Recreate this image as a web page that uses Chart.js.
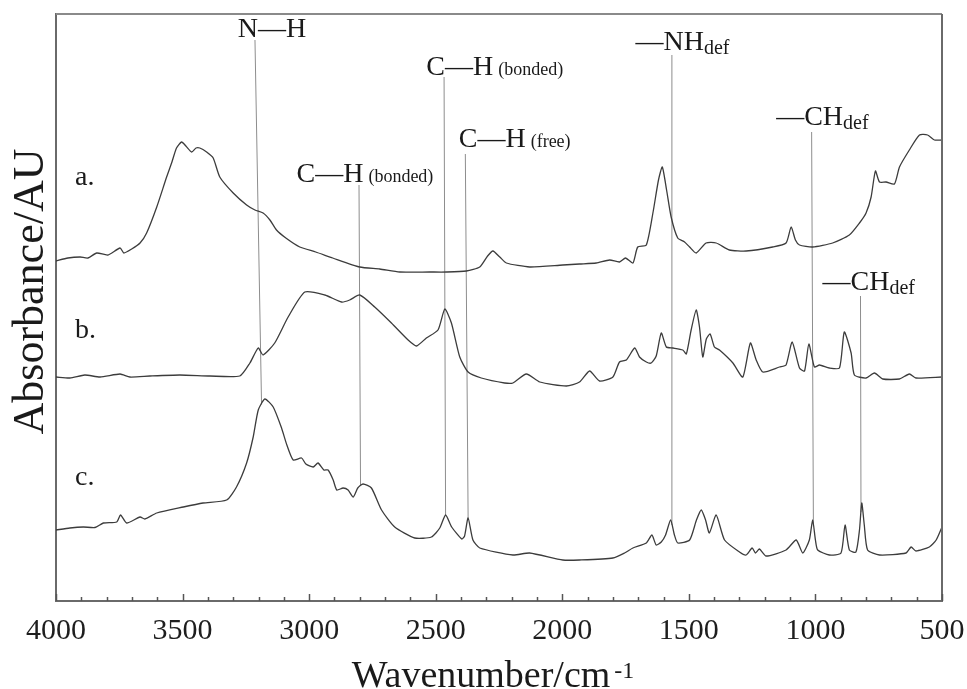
<!DOCTYPE html>
<html>
<head>
<meta charset="utf-8">
<title>Espectros FTIR</title>
<script src="https://cdn.jsdelivr.net/npm/chart.js@4.4.1/dist/chart.umd.min.js"></script>
<style>
  html, body { margin: 0; padding: 0; background: #fff; }
  #wrap { width: 967px; height: 689px; }
</style>
</head>
<body>
<div id="wrap"><canvas id="espectro" width="967" height="689"></canvas></div>
<script>
// espectros a, b, c (numero de onda em cm-1, absorbancia ja deslocada por curva)
const wnA = [4000,3953,3905,3874,3839,3795,3747,3732,3701,3668,3642,3602,3563,3542,3524,3504,3487,3464,3447,3432,3405,3379,3353,3300,3247,3214,3182,3155,3129,3092,3037,2974,2907,2800,2721,2642,2524,2458,2379,2326,2295,2274,2247,2221,2129,1998,1932,1866,1813,1774,1750,1721,1702,1668,1642,1620,1605,1588,1570,1544,1517,1497,1471,1432,1392,1340,1274,1169,1116,1096,1079,1063,1011,932,866,826,800,780,763,747,721,688,668,629,589,557,530,500];
const absA = [3.40,3.43,3.44,3.43,3.48,3.46,3.53,3.48,3.52,3.58,3.68,3.94,4.24,4.39,4.53,4.59,4.55,4.49,4.53,4.53,4.49,4.43,4.24,4.08,3.96,3.91,3.88,3.81,3.71,3.63,3.54,3.49,3.43,3.34,3.32,3.29,3.29,3.29,3.30,3.34,3.45,3.50,3.44,3.38,3.34,3.36,3.37,3.38,3.41,3.39,3.43,3.38,3.54,3.56,3.88,4.21,4.34,4.11,3.84,3.63,3.59,3.54,3.48,3.58,3.58,3.51,3.50,3.54,3.58,3.74,3.61,3.56,3.54,3.58,3.66,3.78,3.88,4.04,4.30,4.19,4.19,4.17,4.34,4.51,4.66,4.66,4.61,4.61];

const wnB = [4000,3945,3886,3826,3747,3708,3629,3511,3392,3274,3234,3201,3182,3136,3083,3017,2938,2872,2840,2800,2741,2675,2609,2576,2537,2491,2464,2438,2405,2372,2320,2228,2195,2142,2089,1984,1932,1892,1853,1800,1774,1747,1714,1695,1668,1649,1629,1609,1589,1563,1524,1510,1491,1471,1458,1445,1431,1416,1399,1379,1326,1287,1257,1234,1208,1142,1116,1092,1063,1043,1026,1004,984,945,905,886,859,846,800,767,734,668,629,603,500];
const absB = [2.24,2.23,2.26,2.24,2.27,2.24,2.25,2.26,2.25,2.25,2.38,2.53,2.46,2.58,2.84,3.09,3.06,2.99,3.01,3.06,2.94,2.78,2.61,2.55,2.63,2.71,2.92,2.78,2.44,2.29,2.23,2.18,2.18,2.27,2.19,2.15,2.19,2.30,2.20,2.24,2.39,2.41,2.53,2.44,2.39,2.38,2.45,2.68,2.54,2.53,2.51,2.47,2.71,2.91,2.74,2.44,2.62,2.67,2.54,2.51,2.38,2.24,2.58,2.41,2.29,2.34,2.36,2.59,2.33,2.30,2.57,2.34,2.36,2.33,2.33,2.69,2.48,2.26,2.23,2.28,2.22,2.22,2.27,2.23,2.24];

const wnC = [4000,3945,3892,3846,3813,3760,3745,3721,3668,3649,3602,3497,3419,3326,3287,3247,3221,3201,3175,3142,3109,3088,3063,3030,3013,2984,2965,2942,2925,2905,2891,2866,2846,2826,2808,2787,2754,2714,2662,2583,2517,2484,2461,2437,2397,2386,2372,2353,2326,2195,2129,1998,1932,1800,1754,1721,1668,1646,1629,1609,1592,1572,1557,1544,1497,1470,1451,1434,1419,1392,1359,1300,1274,1250,1237,1221,1195,1116,1076,1050,1024,1011,1000,991,945,899,883,866,840,826,817,807,794,747,642,622,603,550,523,500];
const absC = [0.71,0.73,0.74,0.735,0.78,0.79,0.86,0.78,0.84,0.82,0.88,0.94,0.98,1.01,1.14,1.38,1.64,1.91,2.02,1.94,1.73,1.56,1.41,1.43,1.37,1.34,1.38,1.31,1.31,1.21,1.11,1.13,1.11,1.04,1.13,1.17,1.13,0.91,0.74,0.63,0.64,0.73,0.86,0.74,0.62,0.65,0.83,0.61,0.53,0.46,0.48,0.41,0.41,0.43,0.48,0.53,0.58,0.66,0.56,0.59,0.66,0.81,0.66,0.58,0.61,0.81,0.91,0.81,0.68,0.86,0.61,0.49,0.46,0.53,0.48,0.52,0.45,0.51,0.61,0.48,0.61,0.81,0.61,0.51,0.46,0.48,0.76,0.51,0.49,0.71,0.98,0.76,0.51,0.46,0.48,0.54,0.50,0.54,0.61,0.74];

// rotulos das curvas (posicao em cm-1 / absorbancia)
const curvaNomes = ['a.', 'b.', 'c.'];
const curvaRotuloWn = [3925, 3925, 3925];
const curvaRotuloY = [4.16, 2.63, 1.16];

// bandas marcadas: linha vai do rotulo ate a curva c
const bandaTexto = ['N\u2014H', 'C\u2014H', 'C\u2014H', 'C\u2014H', '\u2014NH', '\u2014CH', '\u2014CH'];
const bandaNota = ['', '(bonded)', '(bonded)', '(free)', 'def', 'def', 'def'];
const bandaTextoWn = [3282, 3050, 2537, 2409, 1711, 1155, 972];
const bandaTextoY = [5.64, 4.19, 5.26, 4.54, 5.51, 4.76, 3.11];
const bandaWnTopo = [3214, 2803, 2467, 2383, 1567, 1015, 822];
const bandaYTopo = [5.61, 4.16, 5.24, 4.47, 5.46, 4.69, 3.05];
const bandaWnBase = [3188, 2797, 2461, 2372, 1567, 1008, 820];

const xTicks = [4000, 3500, 3000, 2500, 2000, 1500, 1000, 500];

const serif = "'Liberation Serif', 'Times New Roman', serif";

// interpola o valor de uma curva (wn decrescente) num numero de onda
function valorEm(wns, vals, wn) {
  for (let i = 0; i < wns.length - 1; i++) {
    if (wn <= wns[i] && wn >= wns[i + 1]) {
      const t = (wn - wns[i]) / (wns[i + 1] - wns[i]);
      return vals[i] + t * (vals[i + 1] - vals[i]);
    }
  }
  return vals[vals.length - 1];
}

function rotulo(ctx, px, py, texto, nota) {
  ctx.font = `28px ${serif}`;
  ctx.fillText(texto, px, py);
  if (!nota) return;
  const w = ctx.measureText(texto).width;
  if (nota[0] === '(') {
    ctx.font = `18px ${serif}`;
    ctx.fillText(nota, px + w + 5, py);
  } else {
    ctx.font = `20px ${serif}`;
    ctx.fillText(nota, px + w, py + 4);
  }
}

const moldura = {
  id: 'moldura',
  beforeDatasetsDraw(chart) {
    const { ctx, scales: { x, y } } = chart;
    ctx.save();
    ctx.strokeStyle = '#8d8d8d';
    ctx.lineWidth = 1;
    bandaWnTopo.forEach((wn, i) => {
      const yBase = valorEm(wnC, absC, bandaWnBase[i]);
      ctx.beginPath();
      ctx.moveTo(x.getPixelForValue(wn), y.getPixelForValue(bandaYTopo[i]));
      ctx.lineTo(x.getPixelForValue(bandaWnBase[i]), y.getPixelForValue(yBase));
      ctx.stroke();
    });
    ctx.restore();
  },
  afterDraw(chart) {
    const { ctx, chartArea: ca, scales: { x, y } } = chart;
    ctx.save();
    // borda de cima e da direita
    ctx.lineWidth = 2;
    ctx.strokeStyle = '#8a8a8a';
    ctx.beginPath(); ctx.moveTo(ca.left, ca.top); ctx.lineTo(ca.right, ca.top); ctx.stroke();
    ctx.strokeStyle = '#6a6a6a';
    ctx.beginPath(); ctx.moveTo(ca.right, ca.top); ctx.lineTo(ca.right, ca.bottom); ctx.stroke();

    // tracinhos para dentro, a cada 100 cm-1
    ctx.strokeStyle = '#555';
    ctx.lineWidth = 1.5;
    for (let v = x.min; v <= x.max; v += 100) {
      const px = Math.round(x.getPixelForValue(v)) + 0.5;
      const len = v % 500 === 0 ? 7 : 4;
      ctx.beginPath(); ctx.moveTo(px, ca.bottom); ctx.lineTo(px, ca.bottom - len); ctx.stroke();
    }

    ctx.fillStyle = '#1a1a1a';
    ctx.textBaseline = 'alphabetic';
    ctx.textAlign = 'left';
    curvaNomes.forEach((nome, i) => {
      ctx.font = `28px ${serif}`;
      ctx.fillText(nome, x.getPixelForValue(curvaRotuloWn[i]), y.getPixelForValue(curvaRotuloY[i]));
    });
    bandaTexto.forEach((t, i) => {
      rotulo(ctx, x.getPixelForValue(bandaTextoWn[i]), y.getPixelForValue(bandaTextoY[i]), t, bandaNota[i]);
    });

    // titulo do eixo x com expoente
    ctx.font = `38px ${serif}`;
    const tx = 'Wavenumber/cm';
    const wTx = ctx.measureText(tx).width;
    ctx.font = `24px ${serif}`;
    const wSup = ctx.measureText('-1').width;
    const x0 = (ca.left + ca.right) / 2 - 6 - (wTx + 4 + wSup) / 2;
    ctx.font = `38px ${serif}`;
    ctx.fillText(tx, x0, 687);
    ctx.font = `24px ${serif}`;
    ctx.fillText('-1', x0 + wTx + 4, 678);

    // titulo do eixo y
    ctx.translate(43, (ca.top + ca.bottom) / 2 - 16);
    ctx.rotate(-Math.PI / 2);
    ctx.textAlign = 'center';
    ctx.font = `44px ${serif}`;
    ctx.fillText('Absorbance/AU', 0, 0);
    ctx.restore();
  }
};

const pontos = (wns, vals) => wns.map((w, i) => ({ x: w, y: vals[i] }));
// leve suavizacao para nao ficar tudo em quinas
const estiloCurva = { borderColor: '#3c3c3c', borderWidth: 1.3, pointRadius: 0, tension: 0.2, fill: false };

new Chart(document.getElementById('espectro'), {
  type: 'line',
  data: {
    datasets: [
      { label: 'a', data: pontos(wnA, absA), ...estiloCurva },
      { label: 'b', data: pontos(wnB, absB), ...estiloCurva },
      { label: 'c', data: pontos(wnC, absC), ...estiloCurva }
    ]
  },
  options: {
    responsive: false,
    animation: false,
    layout: { padding: { top: 14, right: 25, left: 0, bottom: 0 } },
    plugins: { legend: { display: false }, tooltip: { enabled: false } },
    scales: {
      x: {
        type: 'linear',
        min: 500,
        max: 4000,
        reverse: true,
        afterBuildTicks: scale => { scale.ticks = xTicks.map(v => ({ value: v })); },
        afterFit: scale => {
          scale.height = 88;
          // rotulos das pontas cabem nas margens, sem encolher a area
          scale.paddingLeft = 0;
          scale.paddingRight = 0;
        },
        grid: { display: false, drawTicks: false },
        border: { display: true, color: '#6a6a6a', width: 2 },
        ticks: {
          autoSkip: false,
          maxRotation: 0,
          padding: 12,
          color: '#1e1e1e',
          font: { family: serif, size: 30 },
          callback: v => v
        }
      },
      y: {
        min: 0,
        max: 5.87,
        afterFit: scale => { scale.width = 56; },
        grid: { display: false, drawTicks: false },
        border: { display: true, color: '#6a6a6a', width: 2 },
        ticks: { display: false }
      }
    }
  },
  plugins: [moldura]
});
</script>
</body>
</html>
